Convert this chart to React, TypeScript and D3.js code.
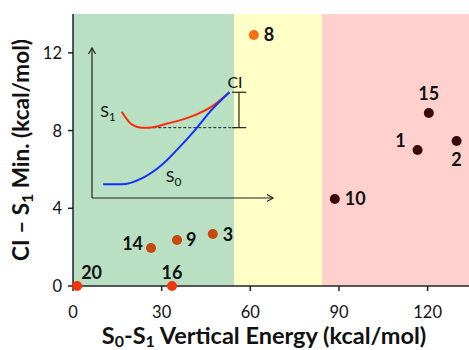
import React from "react";
import * as d3 from "d3";

// ---- data ----
const ids = ["8", "15", "1", "2", "10", "14", "9", "3", "20", "16"];
const verticalEnergy = [61.2, 120.4, 116.6, 129.8, 88.6, 26.4, 35.2, 47.3, 1.4, 33.5];
const ciMinusS1 = [12.92, 8.9, 7.0, 7.46, 4.48, 1.96, 2.37, 2.68, 0.0, 0.0];
const groups = ["orange", "dark", "dark", "dark", "dark", "brown", "brown", "brown", "red", "red"];
const xTicks = [0, 30, 60, 90, 120];
const yTicks = [0, 4, 8, 12];
const regionEdges = [0, 54.5, 84.3, 134];

// inset schematic (arbitrary 0-100 units)
const s1Curve: [number, number][] = [
  [16.4, 57.5], [21.9, 49.1], [27.5, 46.9], [31.1, 46.9], [42.2, 49.8],
  [56.9, 55.3], [66.1, 60.9], [75.9, 70.5],
];
const s0Curve: [number, number][] = [
  [6.2, 9.1], [16.4, 9.1], [27.5, 13.1], [38.5, 22], [47.7, 33.1],
  [56.9, 45.3], [66.1, 58.7], [75.9, 70.5],
];
const s1MinLevel = 46.9;
const ciLevel = 70.5;

// ---- styles ----
const regionColors = ["#b9e0c2", "#ffffc8", "#ffd0cc"];
const groupColors: Record<string, string> = {
  orange: "#ff6a14",
  dark: "#3a0808",
  brown: "#c8480c",
  red: "#f3340c",
};
const labelPlace: Record<string, { dx: number; dy: number; anchor: string }> = {
  "8": { dx: 10, dy: 6, anchor: "start" },
  "15": { dx: 0, dy: -13, anchor: "middle" },
  "1": { dx: -12, dy: -3, anchor: "end" },
  "2": { dx: 0, dy: 25, anchor: "middle" },
  "10": { dx: 10, dy: 6, anchor: "start" },
  "14": { dx: -8, dy: 2, anchor: "end" },
  "9": { dx: 9, dy: 6, anchor: "start" },
  "3": { dx: 10, dy: 7, anchor: "start" },
  "20": { dx: 4, dy: -7, anchor: "start" },
  "16": { dx: 0, dy: -7, anchor: "middle" },
};

const W = 469;
const H = 350;
const font = "Lato, 'Open Sans', sans-serif";

export default function App() {
  const x = d3.scaleLinear().domain([0, 134]).range([73, 469]);
  const y = d3.scaleLinear().domain([0, 14]).range([286, 14]);

  const ix = d3.scaleLinear().domain([0, 100]).range([92, 273]);
  const iy = d3.scaleLinear().domain([0, 100]).range([198, 48]);
  const line = d3
    .line<[number, number]>()
    .x((d) => ix(d[0]))
    .y((d) => iy(d[1]))
    .curve(d3.curveMonotoneX);

  const points = ids.map((id, i) => ({
    id,
    vx: verticalEnergy[i],
    vy: ciMinusS1[i],
    g: groups[i],
  }));

  return (
    <div style={{ position: "absolute", left: 0, top: 0 }}>
      <svg width={W} height={H} style={{ display: "block", background: "#fff" }} fontFamily={font}>
        {/* background regions */}
        {regionColors.map((c, i) => (
          <rect
            key={i}
            x={x(regionEdges[i])}
            y={y(14)}
            width={x(regionEdges[i + 1]) - x(regionEdges[i])}
            height={y(0) - y(14)}
            fill={c}
          />
        ))}

        {/* inset schematic */}
        <g fill="none" stroke="#222" strokeWidth={1.2}>
          <line x1={ix(0)} y1={iy(0)} x2={ix(0)} y2={iy(100)} />
          <line x1={ix(0)} y1={iy(0)} x2={ix(100)} y2={iy(0)} />
          <polyline points={`${ix(0) - 3.5},${iy(100) + 6} ${ix(0)},${iy(100)} ${ix(0) + 3.5},${iy(100) + 6}`} />
          <polyline points={`${ix(100) - 6},${iy(0) - 3.5} ${ix(100)},${iy(0)} ${ix(100) - 6},${iy(0) + 3.5}`} />
          <line x1={ix(31.1)} y1={iy(s1MinLevel)} x2={ix(81.2)} y2={iy(s1MinLevel)} strokeDasharray="3,2" strokeWidth={1} />
          <line x1={ix(81.2)} y1={iy(ciLevel)} x2={ix(81.2)} y2={iy(s1MinLevel)} />
          <line x1={ix(77.4)} y1={iy(ciLevel)} x2={ix(85.2)} y2={iy(ciLevel)} />
          <line x1={ix(77.4)} y1={iy(s1MinLevel)} x2={ix(85.2)} y2={iy(s1MinLevel)} />
        </g>
        <path d={line(s1Curve) || ""} fill="none" stroke="#ff2a0a" strokeWidth={2} />
        <path d={line(s0Curve) || ""} fill="none" stroke="#1030ff" strokeWidth={2} />
        <g fontSize={16} fill="#111">
          <text x={ix(4.5)} y={iy(54)}>
            S<tspan fontSize={12} dy={4}>1</tspan>
          </text>
          <text x={ix(40.8)} y={iy(11)}>
            S<tspan fontSize={12} dy={4}>0</tspan>
          </text>
          <text x={ix(79)} y={iy(73.5)} textAnchor="middle">CI</text>
        </g>

        {/* axes */}
        <g stroke="#222" strokeWidth={1.5}>
          <line x1={x(0)} y1={y(0)} x2={x(134)} y2={y(0)} />
          <line x1={x(0)} y1={y(0)} x2={x(0)} y2={y(14)} />
          {xTicks.map((t) => (
            <line key={t} x1={x(t)} x2={x(t)} y1={y(0)} y2={y(0) + 5} />
          ))}
          {yTicks.map((t) => (
            <line key={t} x1={x(0) - 5} x2={x(0)} y1={y(t)} y2={y(t)} />
          ))}
        </g>
        <g fontSize={16.5} fill="#111">
          {xTicks.map((t) => (
            <text key={t} x={x(t)} y={318} textAnchor="middle">{t}</text>
          ))}
          {yTicks.map((t) => (
            <text key={t} x={x(0) - 11} y={y(t) + 6} textAnchor="end">{t}</text>
          ))}
        </g>

        {/* points */}
        {points.map((p) => (
          <circle key={p.id} cx={x(p.vx)} cy={y(p.vy)} r={5} fill={groupColors[p.g]} />
        ))}
        <g fontSize={18} fontWeight={700} fill="#111">
          {points.map((p) => {
            const lp = labelPlace[p.id];
            return (
              <text key={p.id} x={x(p.vx) + lp.dx} y={y(p.vy) + lp.dy} textAnchor={lp.anchor}>
                {p.id}
              </text>
            );
          })}
        </g>

        {/* axis titles */}
        <text x={264} y={344} textAnchor="middle" fontSize={23.5} fontWeight={700} fill="#111">
          S<tspan fontSize={16} dy={3}>0</tspan>
          <tspan dy={-3}>-S</tspan>
          <tspan fontSize={16} dy={3}>1</tspan>
          <tspan dy={-3}> Vertical Energy (kcal/mol)</tspan>
        </text>
        <text
          transform={`translate(29,150) rotate(-90)`}
          textAnchor="middle"
          fontSize={22.5}
          fontWeight={700}
          fill="#111"
        >
          CI – S<tspan fontSize={16} dy={4}>1</tspan>
          <tspan dy={-4}> Min. (kcal/mol)</tspan>
        </text>
      </svg>
    </div>
  );
}
